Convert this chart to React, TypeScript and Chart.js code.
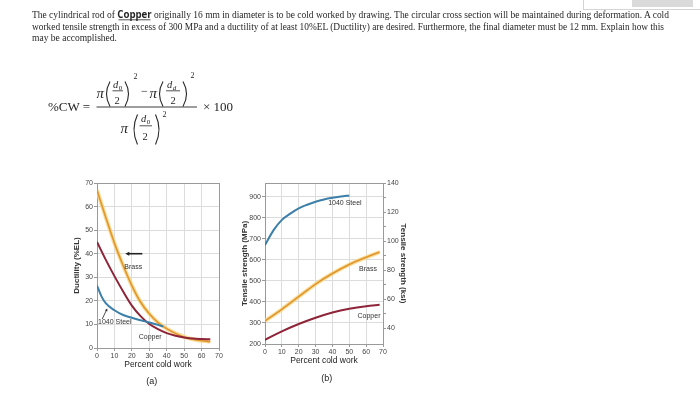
import React, { useEffect, useRef } from "react";
import { Chart, registerables } from "chart.js";

Chart.register(...registerables);

const SANS = "'Liberation Sans', Arial, sans-serif";
const SERIF = "'Liberation Serif', 'Times New Roman', serif";

// ---------- (a) Ductility (%EL) vs percent cold work ----------
const CW_A = [0, 5, 10, 15, 20, 25, 30, 35, 40, 45, 50, 55, 60, 65];
const BRASS_DUCTILITY = [67, 55.5, 44.5, 35, 26.5, 19.5, 14.5, 10.8, 8.2, 6.2, 4.7, 3.7, 3.1, 2.7];
const COPPER_DUCTILITY = [45, 37.5, 30.5, 24, 18, 13.5, 10.2, 8, 6.3, 5.2, 4.5, 4, 3.8, 3.7];
const STEEL_CW_A = [0, 2.5, 5, 10, 15, 20, 25, 30, 35, 38];
const STEEL_DUCTILITY = [26.5, 22, 19, 16, 14, 12.8, 11.8, 10.8, 9.8, 9.1];
const PCT_TICKS = [0, 10, 20, 30, 40, 50, 60, 70];
const DUCTILITY_TICKS = [0, 10, 20, 30, 40, 50, 60, 70];

// ---------- (b) Tensile strength vs percent cold work ----------
const STEEL_CW_B = [0, 5, 10, 15, 20, 25, 30, 35, 40, 45, 50];
const STEEL_TS = [670, 740, 790, 820, 845, 862, 876, 887, 895, 901, 906];
const CW_B = [0, 10, 20, 30, 40, 50, 60, 68];
const BRASS_TS = [310, 365, 425, 485, 535, 578, 612, 637];
const COPPER_TS = [220, 260, 295, 325, 350, 368, 380, 386];
const MPA_TICKS = [200, 300, 400, 500, 600, 700, 800, 900];
const KSI_TICKS = [40, 50, 60, 70, 80, 90, 100, 110, 120, 130, 140];
const KSI_LABEL_STEP = 20;
const MPA_PER_KSI = 6.895;

// curve labels (data coordinates)
const LABELS_A = [
  { text: "Brass", x: 20.8, y: 34.4, align: "center" },
  { text: "1040 Steel", x: 0.6, y: 11, align: "left" },
  { text: "Copper", x: 30.5, y: 4.7, align: "center" },
];
const ARROWS_A = [
  { from: [26, 40], to: [16.2, 40], width: 1.6, head: 4.5 },
  { from: [3.0, 12.3], to: [5.9, 16.8], width: 0.8, head: 3 },
];
const LABELS_B = [
  { text: "1040 Steel", x: 47.4, y: 868, align: "center" },
  { text: "Brass", x: 61.1, y: 558, align: "center" },
  { text: "Copper", x: 61.7, y: 334, align: "center" },
];

const pts = (xs: number[], ys: number[]) => xs.map((x, i) => ({ x, y: ys[i] }));

function drawArrow(ctx: CanvasRenderingContext2D, x1: number, y1: number, x2: number, y2: number, w: number, head: number) {
  const ang = Math.atan2(y2 - y1, x2 - x1);
  ctx.save();
  ctx.strokeStyle = "#222";
  ctx.fillStyle = "#222";
  ctx.lineWidth = w;
  ctx.beginPath();
  ctx.moveTo(x1, y1);
  ctx.lineTo(x2 - Math.cos(ang) * head * 0.8, y2 - Math.sin(ang) * head * 0.8);
  ctx.stroke();
  ctx.beginPath();
  ctx.moveTo(x2, y2);
  ctx.lineTo(x2 - Math.cos(ang - 0.45) * head, y2 - Math.sin(ang - 0.45) * head);
  ctx.lineTo(x2 - Math.cos(ang + 0.45) * head, y2 - Math.sin(ang + 0.45) * head);
  ctx.closePath();
  ctx.fill();
  ctx.restore();
}

const framePlugin = {
  id: "frame",
  beforeDatasetsDraw(chart: any) {
    const { ctx, chartArea: a } = chart;
    ctx.save();
    ctx.strokeStyle = "#9a9a9a";
    ctx.lineWidth = 1;
    ctx.strokeRect(Math.round(a.left) + 0.5, Math.round(a.top) + 0.5, Math.round(a.right - a.left), Math.round(a.bottom - a.top));
    ctx.restore();
  },
};

function labelPlugin(labels: any[], arrows: any[]) {
  return {
    id: "curveLabels",
    afterDatasetsDraw(chart: any) {
      const { ctx } = chart;
      const xs = chart.scales.x;
      const ys = chart.scales.y;
      ctx.save();
      ctx.font = `7px ${SANS}`;
      ctx.fillStyle = "#333";
      ctx.textBaseline = "middle";
      labels.forEach((l) => {
        ctx.textAlign = l.align;
        ctx.fillText(l.text, xs.getPixelForValue(l.x), ys.getPixelForValue(l.y));
      });
      ctx.restore();
      arrows.forEach((a) => {
        drawArrow(
          ctx,
          xs.getPixelForValue(a.from[0]),
          ys.getPixelForValue(a.from[1]),
          xs.getPixelForValue(a.to[0]),
          ys.getPixelForValue(a.to[1]),
          a.width,
          a.head
        );
      });
    },
  };
}

// Chart.js draws lower dataset indexes on top, so halos go last.
const line = (data: any[], color: string, width: number, yAxisID = "y") => ({
  data,
  borderColor: color,
  borderWidth: width,
  pointRadius: 0,
  cubicInterpolationMode: "monotone" as const,
  fill: false,
  yAxisID,
});

const tickFont = { size: 7, family: SANS };
const titleFont = { size: 8.5, family: SANS };
const gridCommon = { color: "#dcdcdc", tickLength: 3, tickColor: "#999" };
const BRASS_CORE = "#E0952F";
const BRASS_HALO = "rgba(248,214,130,0.85)";
const COPPER_COLOR = "#8E2438";
const STEEL_COLOR = "#3C7FA8";

export default function App() {
  const refA = useRef<HTMLCanvasElement>(null);
  const refB = useRef<HTMLCanvasElement>(null);

  useEffect(() => {
    const chartA = new Chart(refA.current!, {
      type: "line",
      data: {
        datasets: [
          line(pts(STEEL_CW_A, STEEL_DUCTILITY), STEEL_COLOR, 2),
          line(pts(CW_A, COPPER_DUCTILITY), COPPER_COLOR, 2),
          line(pts(CW_A, BRASS_DUCTILITY), BRASS_CORE, 1.6),
          line(pts(CW_A, BRASS_DUCTILITY), BRASS_HALO, 4),
        ],
      },
      options: {
        animation: false,
        responsive: false,
        events: [],
        layout: { padding: { left: 0, right: 16, top: 8, bottom: 0 } },
        plugins: { legend: { display: false }, tooltip: { enabled: false } },
        scales: {
          x: {
            type: "linear",
            min: 0,
            max: 70,
            afterBuildTicks: (ax: any) => {
              ax.ticks = PCT_TICKS.map((v) => ({ value: v }));
            },
            afterFit: (ax: any) => {
              ax.height = 42;
            },
            grid: gridCommon,
            border: { color: "#9a9a9a" },
            ticks: { font: tickFont, color: "#444", padding: 1, maxRotation: 0, autoSkip: false },
            title: { display: true, text: "Percent cold work", font: titleFont, color: "#222", padding: { top: 0, bottom: 19.9 } },
          },
          y: {
            type: "linear",
            min: 0,
            max: 70,
            afterBuildTicks: (ax: any) => {
              ax.ticks = DUCTILITY_TICKS.map((v) => ({ value: v }));
            },
            afterFit: (ax: any) => {
              ax.width = 37;
            },
            grid: gridCommon,
            border: { color: "#9a9a9a" },
            ticks: { font: tickFont, color: "#444", padding: 1, autoSkip: false },
            title: { display: true, text: "Ductility (%EL)", font: { size: 8, family: SANS, weight: "bold" }, color: "#333", padding: { top: 11.9, bottom: 0 } },
          },
        },
      },
      plugins: [framePlugin, labelPlugin(LABELS_A, ARROWS_A)],
    } as any);

    const chartB = new Chart(refB.current!, {
      type: "line",
      data: {
        datasets: [
          line(pts(STEEL_CW_B, STEEL_TS), STEEL_COLOR, 2),
          line(pts(CW_B, COPPER_TS), COPPER_COLOR, 2),
          line(pts(CW_B, BRASS_TS), BRASS_CORE, 1.6),
          line(pts(CW_B, BRASS_TS), BRASS_HALO, 4),
        ],
      },
      options: {
        animation: false,
        responsive: false,
        events: [],
        layout: { padding: { left: 0, right: 0, top: 8, bottom: 0 } },
        plugins: { legend: { display: false }, tooltip: { enabled: false } },
        scales: {
          x: {
            type: "linear",
            min: 0,
            max: 70,
            afterBuildTicks: (ax: any) => {
              ax.ticks = PCT_TICKS.map((v) => ({ value: v }));
            },
            afterFit: (ax: any) => {
              ax.height = 46;
            },
            grid: gridCommon,
            border: { color: "#9a9a9a" },
            ticks: { font: tickFont, color: "#444", padding: 1, maxRotation: 0, autoSkip: false },
            title: { display: true, text: "Percent cold work", font: titleFont, color: "#222", padding: { top: 0, bottom: 23.9 } },
          },
          y: {
            type: "linear",
            position: "left",
            min: 200,
            max: 140 * MPA_PER_KSI,
            afterBuildTicks: (ax: any) => {
              ax.ticks = MPA_TICKS.map((v) => ({ value: v }));
            },
            afterFit: (ax: any) => {
              ax.width = 40;
            },
            grid: gridCommon,
            border: { color: "#9a9a9a" },
            ticks: { font: tickFont, color: "#444", padding: 1, autoSkip: false },
            title: { display: true, text: "Tensile strength (MPa)", font: { size: 8, family: SANS, weight: "bold" }, color: "#333", padding: { top: 15.2, bottom: 0 } },
          },
          y2: {
            type: "linear",
            position: "right",
            min: 200 / MPA_PER_KSI,
            max: 140,
            afterBuildTicks: (ax: any) => {
              ax.ticks = KSI_TICKS.map((v) => ({ value: v }));
            },
            afterFit: (ax: any) => {
              ax.width = 42;
            },
            grid: { drawOnChartArea: false, tickLength: 3, tickColor: "#999" },
            border: { color: "#9a9a9a" },
            ticks: {
              font: tickFont,
              color: "#444",
              padding: 1,
              autoSkip: false,
              callback: (v: any) => (v % KSI_LABEL_STEP === 0 ? String(v) : ""),
            },
            title: { display: true, text: "Tensile strength (ksi)", font: { size: 8, family: SANS, weight: "bold" }, color: "#333", padding: { top: 16.9, bottom: 0 } },
          },
        },
      },
      plugins: [framePlugin, labelPlugin(LABELS_B, [])],
    } as any);

    return () => {
      chartA.destroy();
      chartB.destroy();
    };
  }, []);

  const ink = "#262626";
  const paren = (d: string) => <path d={d} fill="none" stroke={ink} strokeWidth={1.1} />;

  return (
    <div style={{ position: "fixed", left: 0, top: 0, width: 700, height: 395, background: "#fff", overflow: "hidden" }}>
      <canvas ref={refA} width={175} height={215} style={{ position: "absolute", left: 60, top: 175, width: 175, height: 215 }} />
      <canvas ref={refB} width={200} height={215} style={{ position: "absolute", left: 225, top: 175, width: 200, height: 215 }} />
      <div style={{ position: "absolute", left: 583, top: -1, width: 120, height: 9, border: "1px solid #d4d4d4", background: "#fff" }} />
      <div style={{ position: "absolute", left: 632, top: 0, width: 61, height: 7, background: "#dadada" }} />
      <svg width={700} height={395} style={{ position: "absolute", left: 0, top: 0, pointerEvents: "none" }}>
        <g fontFamily={SERIF} fill={ink} fontSize={9.8}>
          <text x={32} y={17.5} textLength={637} lengthAdjust="spacingAndGlyphs">
            The cylindrical rod of{" "}
            <tspan fontFamily="'Open Sans', sans-serif" fontWeight="bold" fontSize={10}>Copper</tspan>
            {" "}originally 16 mm in diameter is to be cold worked by drawing. The circular cross section will be maintained during deformation. A cold
          </text>
          <text x={32} y={29.5} textLength={632} lengthAdjust="spacingAndGlyphs">
            worked tensile strength in excess of 300 MPa and a ductility of at least 10%EL (Ductility) are desired. Furthermore, the final diameter must be 12 mm. Explain how this
          </text>
          <text x={32} y={41} textLength={85} lengthAdjust="spacingAndGlyphs">may be accomplished.</text>
        </g>
        <line x1={118.5} x2={150.5} y1={19.8} y2={19.8} stroke={ink} strokeWidth={0.8} />

        <g fontFamily={SERIF} fill={ink}>
          <text x={48} y={111} fontSize={13}>%CW =</text>
          <line x1={96.5} x2={197} y1={107} y2={107} stroke={ink} strokeWidth={0.9} />
          <text x={203} y={111} fontSize={13}>× 100</text>

          {/* numerator */}
          <text x={96.5} y={97.5} fontSize={15} fontStyle="italic">π</text>
          {paren("M110,81.5 Q103,94 110,106.5")}
          <text x={113} y={87.5} fontSize={10.5} fontStyle="italic">d</text>
          <text x={118.8} y={89.5} fontSize={7}>0</text>
          <line x1={112.5} x2={123} y1={90.8} y2={90.8} stroke={ink} strokeWidth={0.8} />
          <text x={114.5} y={104} fontSize={10.5}>2</text>
          {paren("M125,81.5 Q132,94 125,106.5")}
          <text x={133.5} y={78.5} fontSize={8}>2</text>
          <text x={141} y={95} fontSize={12}>−</text>
          <text x={149.5} y={97.5} fontSize={15} fontStyle="italic">π</text>
          {paren("M163,81.5 Q156,94 163,106.5")}
          <text x={167} y={87.5} fontSize={10.5} fontStyle="italic">d</text>
          <text x={172.8} y={89.5} fontSize={7} fontStyle="italic">d</text>
          <line x1={166} x2={180} y1={90.8} y2={90.8} stroke={ink} strokeWidth={0.8} />
          <text x={170.5} y={104} fontSize={10.5}>2</text>
          {paren("M183,81.5 Q190,94 183,106.5")}
          <text x={190.5} y={78} fontSize={8}>2</text>

          {/* denominator */}
          <text x={120.5} y={132.5} fontSize={15} fontStyle="italic">π</text>
          {paren("M137.5,114.5 Q130.5,129.5 137.5,144.5")}
          <text x={141} y={122} fontSize={10.5} fontStyle="italic">d</text>
          <text x={146.8} y={124} fontSize={7}>0</text>
          <line x1={139.5} x2={152} y1={125.8} y2={125.8} stroke={ink} strokeWidth={0.8} />
          <text x={142.5} y={140} fontSize={10.5}>2</text>
          {paren("M155.5,114.5 Q162.5,129.5 155.5,144.5")}
          <text x={162.5} y={117} fontSize={8}>2</text>
        </g>

        <g fontFamily={SANS} fill="#222" fontSize={9} textAnchor="middle">
          <text x={151.7} y={383.5}>(a)</text>
          <text x={326.7} y={380.5}>(b)</text>
        </g>
      </svg>
    </div>
  );
}
